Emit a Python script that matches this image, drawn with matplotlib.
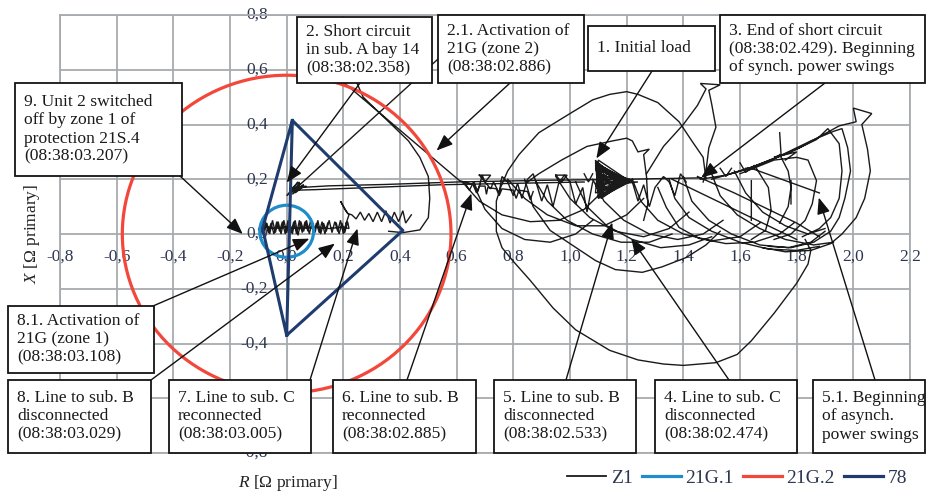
import numpy as np
import matplotlib
matplotlib.use('Agg')
import matplotlib.pyplot as plt
from matplotlib.patches import Rectangle, Circle
from matplotlib.lines import Line2D
from matplotlib.transforms import offset_copy

# ---------------- data ----------------
x_ticks = [-0.8, -0.6, -0.4, -0.2, 0.0, 0.2, 0.4, 0.6, 0.8, 1.0, 1.2, 1.4, 1.6, 1.8, 2.0, 2.2]
x_tick_labels = ['-0,8', '-0,6', '-0,4', '-0,2', '0,0', '0,2', '0,4', '0,6', '0,8', '1,0',
                 '1,2', '1,4', '1,6', '1,8', '2,0', '2,2']
y_ticks = [-0.8, -0.4, -0.2, 0.0, 0.2, 0.4, 0.6, 0.8]
y_tick_labels = ['-0,8', '-0,4', '-0,2', '0,0', '0,2', '0,4', '0,6', '0,8']
y_grid = [-0.8, -0.6, -0.4, -0.2, 0.0, 0.2, 0.4, 0.6, 0.8]

# 21G.1 and 21G.2 circles (centre R, centre X, radius)
g21_1 = (0.0, 0.01, 0.095)
g21_2 = (0.0, 0.0, 0.58)
# 78 characteristic
g78_R = [0.0, -0.085, 0.02, 0.41, 0.0, 0.02]
g78_X = [-0.37, 0.02, 0.415, 0.013, -0.37, 0.415]

# Z1 trajectory pieces (R, X)
z1_load = [(1.13, 0.20), (1.09, 0.27), (1.10, 0.13), (1.21, 0.19), (1.09, 0.26), (1.11, 0.14),
           (1.20, 0.20), (1.10, 0.27), (1.09, 0.15), (1.19, 0.18), (1.10, 0.25), (1.11, 0.13),
           (1.21, 0.20), (1.09, 0.24), (1.12, 0.15), (1.18, 0.19), (1.10, 0.26), (1.10, 0.16),
           (1.21, 0.19), (1.11, 0.23), (1.12, 0.14), (1.17, 0.21), (1.09, 0.25), (1.11, 0.17),
           (1.20, 0.19), (1.10, 0.22), (1.13, 0.16), (1.16, 0.20), (1.10, 0.24), (1.12, 0.18),
           (1.19, 0.20), (1.11, 0.21), (1.14, 0.18), (1.24, 0.19), (1.12, 0.19), (1.095, 0.265),
           (1.105, 0.135), (1.205, 0.195), (1.10, 0.255), (1.115, 0.145), (1.195, 0.185),
           (1.105, 0.235), (1.12, 0.16), (1.18, 0.20), (1.11, 0.20), (1.15, 0.19), (1.10, 0.18),
           (1.13, 0.22), (1.22, 0.195), (1.10, 0.20)]
z1_fault_a = [(0.62, 0.72), (0.02, 0.155)]
z1_fault_b = [(0.16, 0.59), (0.61, 0.195), (0.66, 0.18)]
z1_fault_cluster = [(0.02, 0.155), (0.0, 0.14), (0.04, 0.19), (0.01, 0.15), (0.05, 0.185),
                    (0.02, 0.145), (0.06, 0.18), (0.03, 0.16), (0.07, 0.175), (0.02, 0.165),
                    (0.05, 0.17), (0.01, 0.16), (0.045, 0.19), (0.03, 0.15), (0.06, 0.175)]
z1_fault_line = [(0.05, 0.17), (0.15, 0.176), (0.35, 0.181), (0.60, 0.19), (0.90, 0.196),
                 (1.20, 0.200), (1.46, 0.205)]
z1_fault_line2 = [(0.03, 0.16), (0.10, 0.162), (0.30, 0.17), (0.55, 0.18), (0.75, 0.184),
                  (1.05, 0.19)]
z1_curve_top = [(0.24, 0.57), (0.27, 0.50), (0.35, 0.42), (0.43, 0.34), (0.47, 0.28),
                (0.50, 0.21), (0.505, 0.13), (0.50, 0.06), (0.47, 0.015), (0.41, 0.005),
                (0.36, 0.01)]
z1_zig_small = [(0.44, 0.07), (0.42, 0.04), (0.41, 0.085), (0.395, 0.045), (0.38, 0.08),
                (0.365, 0.04), (0.35, 0.085), (0.335, 0.045), (0.32, 0.08), (0.305, 0.045),
                (0.29, 0.075), (0.275, 0.05), (0.26, 0.08), (0.245, 0.055), (0.23, 0.07),
                (0.215, 0.075), (0.19, 0.12), (0.205, 0.09), (0.22, 0.07), (0.21, 0.04)]
z1_final = [(0.21, 0.04), (0.20, 0.0), (0.19, 0.05), (0.18, 0.01), (0.17, 0.045), (0.16, 0.005),
            (0.15, 0.05), (0.14, 0.01), (0.13, 0.04), (0.12, 0.0), (0.11, 0.05), (0.10, 0.005),
            (0.09, 0.045), (0.08, 0.0), (0.07, 0.05), (0.06, 0.01), (0.05, 0.045), (0.04, -0.005),
            (0.03, 0.05), (0.02, 0.0), (0.01, 0.045), (0.0, 0.005), (-0.01, 0.05), (-0.02, 0.0),
            (-0.03, 0.045), (-0.04, 0.005), (-0.05, 0.05), (-0.06, 0.0), (-0.07, 0.04),
            (-0.08, 0.01), (-0.09, 0.035), (-0.10, 0.015), (-0.08, 0.03), (-0.05, 0.02),
            (0.0, 0.025), (0.05, 0.02), (0.10, 0.025), (0.15, 0.02), (0.20, 0.025), (0.22, 0.02),
            (0.215, 0.045), (0.205, 0.005), (0.195, 0.04), (0.185, 0.0), (0.175, 0.04)]
z1_final2 = [(-0.095, 0.025), (-0.085, 0.0), (-0.075, 0.045), (-0.065, 0.005), (-0.055, 0.04),
             (-0.045, 0.0), (-0.035, 0.045), (-0.025, 0.01), (-0.015, 0.045), (-0.005, 0.0),
             (0.005, 0.05), (0.015, 0.005), (0.025, 0.045), (0.035, 0.0), (0.045, 0.05),
             (0.055, 0.005), (0.065, 0.045), (0.075, 0.01), (0.085, 0.05), (0.095, 0.0),
             (0.105, 0.04), (0.115, 0.005), (0.125, 0.045), (0.135, 0.0), (0.145, 0.04)]
z1_swing_big = [(1.46, 0.205), (1.48, 0.20), (1.47, 0.28), (1.43, 0.34), (1.385, 0.41),
                (1.31, 0.48), (1.24, 0.51), (1.20, 0.52), (1.14, 0.51), (1.08, 0.49), (1.00, 0.44),
                (0.89, 0.37), (0.82, 0.29), (0.78, 0.23), (0.755, 0.17), (0.74, 0.12), (0.74, 0.01),
                (0.76, -0.05), (0.80, -0.10), (0.86, -0.17), (0.94, -0.27), (1.02, -0.35),
                (1.14, -0.425), (1.24, -0.46), (1.33, -0.475), (1.40, -0.48), (1.515, -0.47),
                (1.59, -0.44), (1.64, -0.39), (1.72, -0.29), (1.80, -0.18), (1.84, -0.11),
                (1.85, -0.06), (1.83, -0.02)]
z1_cusp_loop = [(1.27, 0.22), (1.33, 0.32), (1.40, 0.40), (1.45, 0.47), (1.48, 0.53),
                (1.46, 0.55), (1.53, 0.545), (1.49, 0.525), (1.50, 0.475), (1.515, 0.39),
                (1.49, 0.315), (1.48, 0.23), (1.47, 0.19)]
z1_upper2 = [(0.85, 0.19), (0.89, 0.22), (0.97, 0.27), (1.06, 0.32), (1.15, 0.34), (1.20, 0.35),
             (1.22, 0.34), (1.24, 0.30), (1.28, 0.31), (1.26, 0.29), (1.27, 0.21), (1.275, 0.11),
             (1.26, 0.05)]
z1_lower2 = [(0.84, 0.20), (0.87, 0.10), (0.93, 0.013), (1.00, -0.035), (1.09, -0.097),
             (1.16, -0.13), (1.255, -0.14), (1.325, -0.12), (1.41, -0.086), (1.48, -0.04),
             (1.53, 0.01)]
z1_arc_m1 = [(0.66, 0.18), (0.70, 0.09), (0.76, 0.02), (0.84, -0.02), (0.93, -0.03), (1.02, 0.0),
             (1.08, 0.05)]
z1_arc_m2 = [(0.88, 0.19), (0.92, 0.12), (0.99, 0.05), (1.08, 0.0), (1.18, -0.03), (1.28, -0.03),
             (1.36, 0.0)]
z1_arc_m3 = [(1.02, 0.19), (1.06, 0.10), (1.13, 0.03), (1.22, -0.02), (1.32, -0.05), (1.42, -0.04),
             (1.50, -0.01)]
z1_bowl1 = [(0.62, 0.19), (0.68, 0.12), (0.76, 0.07), (0.86, 0.045), (0.96, 0.05), (1.05, 0.09),
            (1.10, 0.14)]
z1_bowl2 = [(0.78, 0.20), (0.84, 0.13), (0.92, 0.07), (1.02, 0.03), (1.12, 0.03), (1.20, 0.07),
            (1.26, 0.13)]
z1_bowl3 = [(0.95, 0.21), (1.00, 0.13), (1.07, 0.06), (1.16, 0.01), (1.26, -0.01), (1.35, 0.02),
            (1.42, 0.08)]
z1_bowl4 = [(1.08, 0.20), (1.12, 0.12), (1.19, 0.05), (1.28, 0.0), (1.38, -0.02), (1.47, 0.0),
            (1.54, 0.05)]
z1_bowl5 = [(1.22, 0.20), (1.25, 0.12), (1.31, 0.05), (1.40, 0.0), (1.50, -0.025), (1.60, -0.01),
            (1.67, 0.04)]
z1_bowl6 = [(1.31, 0.17), (1.34, 0.097), (1.385, 0.024), (1.455, -0.016), (1.55, -0.035),
            (1.65, -0.03), (1.74, 0.0), (1.79, 0.04)]
z1_bowl7 = [(1.40, 0.21), (1.43, 0.12), (1.49, 0.05), (1.57, 0.0), (1.67, -0.04), (1.77, -0.05),
            (1.85, -0.03), (1.90, 0.01)]
z1_bowl8 = [(1.50, 0.22), (1.53, 0.14), (1.59, 0.07), (1.67, 0.02), (1.76, -0.02), (1.86, -0.04),
            (1.93, -0.03)]
z1_bowl9 = [(1.58, 0.23), (1.62, 0.15), (1.68, 0.08), (1.76, 0.03), (1.84, 0.0), (1.90, 0.02)]
z1_bowl10 = [(1.35, 0.20), (1.37, 0.13), (1.42, 0.06), (1.50, 0.01), (1.60, -0.03), (1.70, -0.055),
             (1.80, -0.06), (1.88, -0.045)]
z1_diag1 = [(1.36, 0.20), (1.50, 0.13), (1.62, 0.07), (1.72, 0.02), (1.80, -0.02)]
z1_diag2 = [(1.45, 0.21), (1.58, 0.15), (1.70, 0.09), (1.80, 0.04), (1.88, -0.01)]
z1_diag3 = [(1.64, 0.24), (1.76, 0.195), (1.88, 0.15)]
z1_loop_r1 = [(1.46, 0.20), (1.55, 0.215), (1.63, 0.24), (1.72, 0.275), (1.81, 0.315),
              (1.88, 0.355), (1.95, 0.395), (2.01, 0.41), (2.00, 0.46), (2.065, 0.44),
              (2.03, 0.40), (2.05, 0.31), (2.06, 0.23), (2.04, 0.13), (2.01, 0.06), (1.96, 0.0),
              (1.92, -0.035), (1.85, -0.06), (1.76, -0.065), (1.68, -0.05)]
z1_loop_r2 = [(1.50, 0.20), (1.62, 0.235), (1.74, 0.285), (1.85, 0.34), (1.93, 0.375),
              (1.96, 0.385), (1.98, 0.315), (1.99, 0.23), (1.97, 0.13), (1.95, 0.06),
              (1.92, 0.01), (1.86, -0.03), (1.78, -0.05), (1.70, -0.045)]
z1_loop_r3 = [(1.55, 0.215), (1.66, 0.25), (1.78, 0.30), (1.87, 0.345), (1.91, 0.385),
              (1.95, 0.33), (1.96, 0.23), (1.95, 0.13), (1.92, 0.06), (1.88, 0.02), (1.82, -0.01)]
z1_loop_r4 = [(1.60, 0.22), (1.72, 0.27), (1.80, 0.28), (1.84, 0.27), (1.87, 0.195),
              (1.855, 0.11), (1.83, 0.05), (1.78, 0.0), (1.72, -0.02)]
z1_loop_r5 = [(1.62, 0.24), (1.656, 0.243), (1.70, 0.17), (1.71, 0.086), (1.69, 0.013),
              (1.64, -0.02)]
z1_loop_r6 = [(1.74, 0.29), (1.77, 0.23), (1.78, 0.17), (1.77, 0.10), (1.74, 0.04)]
z1_vline1 = [(1.64, 0.195), (1.64, 0.05)]
z1_vline2 = [(1.78, 0.195), (1.78, 0.11)]
z1_star = [(1.74, 0.37), (1.745, 0.29), (1.72, 0.28), (1.80, 0.30), (1.76, 0.27)]
z1_mid_zig = [(0.63, 0.185), (0.645, 0.16), (0.66, 0.19), (0.675, 0.155), (0.69, 0.215),
              (0.70, 0.19), (0.72, 0.165), (0.73, 0.19), (0.75, 0.15), (0.76, 0.21), (0.78, 0.19),
              (0.80, 0.14), (0.815, 0.185), (0.83, 0.13), (0.85, 0.20), (0.87, 0.22), (0.88, 0.19),
              (0.90, 0.12), (0.92, 0.18), (0.94, 0.10), (0.96, 0.185), (0.98, 0.215), (1.00, 0.19),
              (1.02, 0.11), (1.045, 0.17), (1.06, 0.08), (1.08, 0.19)]
z1_mid_zig2 = [(1.22, 0.19), (1.24, 0.12), (1.26, 0.18), (1.28, 0.10), (1.30, 0.17), (1.33, 0.21),
               (1.35, 0.19), (1.37, 0.14), (1.39, 0.22), (1.41, 0.19)]
z1_cusps = [(0.68, 0.215), (0.70, 0.19), (0.72, 0.215), (0.68, 0.215), (np.nan, np.nan),
            (0.95, 0.215), (0.97, 0.19), (0.99, 0.215), (0.95, 0.215), (np.nan, np.nan),
            (1.05, 0.22), (1.065, 0.19), (1.08, 0.22), (np.nan, np.nan),
            (1.53, 0.24), (1.55, 0.21), (1.57, 0.24), (np.nan, np.nan),
            (1.60, 0.26), (1.62, 0.225), (1.65, 0.25)]
z1_ticks = [(0.66, 0.175), (0.67, 0.15), (0.68, 0.175), (0.70, 0.175), (0.705, 0.145),
            (0.71, 0.17), (0.74, 0.165), (0.75, 0.14), (0.76, 0.165), (0.80, 0.16), (0.81, 0.13),
            (0.82, 0.16), (0.85, 0.155), (0.86, 0.125), (0.87, 0.155)]

z1_pieces = [z1_load, z1_fault_a, z1_fault_b, z1_fault_cluster, z1_fault_line, z1_fault_line2,
             z1_curve_top, z1_zig_small, z1_final, z1_final2, z1_swing_big, z1_cusp_loop,
             z1_upper2, z1_lower2, z1_arc_m1, z1_arc_m2, z1_arc_m3, z1_bowl1, z1_bowl2, z1_bowl3,
             z1_bowl4, z1_bowl5, z1_bowl6, z1_bowl7, z1_bowl8, z1_bowl9, z1_bowl10, z1_diag1,
             z1_diag2, z1_diag3, z1_loop_r1, z1_loop_r2, z1_loop_r3, z1_loop_r4, z1_loop_r5,
             z1_loop_r6, z1_vline1, z1_vline2, z1_star, z1_mid_zig, z1_mid_zig2, z1_cusps,
             z1_ticks]

# annotations: text, box (px: x0, y0, x1, y1), arrow start (px), arrow tip (R, X)
notes = [
    ("9. Unit 2 switched\noff by zone 1 of\nprotection 21S.4\n(08:38:03.207)",
     (15, 83, 182, 176), (180, 176), (-0.155, 0.0)),
    ("2. Short circuit\nin sub. A bay 14\n(08:38:02.358)", (297, 17, 432, 83), (360, 83), (0.0, 0.188)),
    ("2.1. Activation of\n21G (zone 2)\n(08:38:02.886)", (438, 15, 584, 83), (510, 83), (0.529, 0.305)),
    ("1. Initial load", (588, 26, 715, 71), (652, 71), (1.093, 0.276)),
    ("3. End of short circuit\n(08:38:02.429). Beginning\nof synch. power swings",
     (720, 15, 925, 83), (825, 83), (1.463, 0.206)),
    ("8.1. Activation of\n21G (zone 1)\n(08:38:03.108)", (8, 306, 154, 373), (153, 306), (0.08, -0.017)),
    ("8. Line to sub. B\ndisconnected\n(08:38:03.029)", (8, 380, 151, 453), (151, 380), (0.17, -0.035)),
    ("7. Line to sub. C\nreconnected\n(08:38:03.005)", (169, 380, 311, 453), (310, 380), (0.25, 0.02)),
    ("6. Line to sub. B\nreconnected\n(08:38:02.885)", (333, 380, 476, 453), (407, 380), (0.652, 0.148)),
    ("5. Line to sub. B\ndisconnected\n(08:38:02.533)", (494, 380, 636, 453), (566, 380), (1.149, 0.042)),
    ("4. Line to sub. C\ndisconnected\n(08:38:02.474)", (655, 380, 797, 453), (729, 380), (1.216, -0.016)),
    ("5.1. Beginning\nof asynch.\npower swings", (813, 380, 925, 453), (875, 380), (1.878, 0.133)),
]

# ---------------- style ----------------
plt.rcParams['font.family'] = ['Liberation Serif', 'DejaVu Serif']
plt.rcParams['mathtext.fontset'] = 'custom'
plt.rcParams['mathtext.it'] = 'Liberation Serif:italic'
plt.rcParams['mathtext.rm'] = 'Liberation Serif'

W, H = 927, 495
fig = plt.figure(figsize=(W / 100, H / 100), dpi=100)
ax = fig.add_axes([60 / W, 1 - 453 / H, 850 / W, 438 / H])

grid_c = '#a7abaf'
c_z1 = '#1a1a1a'
c_g1 = '#1f8ccc'
c_g2 = '#f2473a'
c_78 = '#1f3c6e'
lab_c = '#2d3650'

ax.set_xlim(-0.8, 2.2)
ax.set_ylim(-0.8, 0.8)
ax.set_xticks(x_ticks)
ax.set_yticks(y_grid)
ax.tick_params(length=0, labelbottom=False, labelleft=False)
ax.set_axisbelow(True)
ax.grid(True, color=grid_c, lw=1.3)
for s in ax.spines.values():
    s.set_color(grid_c)
    s.set_linewidth(1.3)

# Z1
zR, zX = [], []
for piece in z1_pieces:
    for r, x in piece:
        zR.append(r)
        zX.append(x)
    zR.append(np.nan)
    zX.append(np.nan)
ax.plot(zR, zX, color=c_z1, lw=1.0, zorder=2, solid_joinstyle='miter')

ax.add_patch(Circle((g21_1[0], g21_1[1]), g21_1[2], fill=False, ec=c_g1, lw=2.3, zorder=3))
ax.add_patch(Circle((g21_2[0], g21_2[1]), g21_2[2], fill=False, ec=c_g2, lw=2.3, zorder=4))
ax.plot(g78_R, g78_X, color=c_78, lw=2.2, zorder=5)

# tick labels along the zero axes
tx = offset_copy(ax.transData, fig=fig, x=0, y=-23, units='dots')
for v, t in zip(x_ticks, x_tick_labels):
    ax.text(v, 0, t, transform=tx, ha='center', va='center', fontsize=12.5, color=lab_c, zorder=1.5)
ty = offset_copy(ax.transData, fig=fig, x=-19, y=0, units='dots')
for v, t in zip(y_ticks, y_tick_labels):
    ax.text(0, v, t, transform=ty, ha='right', va='center', fontsize=12.5, color=lab_c, zorder=1.5)

# axis titles
fig.text(288 / W, 1 - 483 / H, '$R$ [Ω primary]', ha='center', va='center', fontsize=12.5, color='#222222')
fig.text(32 / W, 1 - 234 / H, '$X$ [Ω primary]', ha='center', va='center', rotation=90,
         fontsize=12.5, color='#222222')

# annotations
for text, (x0, y0, x1, y1), (xs, ys), (tr, tx_) in notes:
    fig.add_artist(Rectangle((x0 / W, 1 - y1 / H), (x1 - x0) / W, (y1 - y0) / H,
                             transform=fig.transFigure, fc='white', ec='#141414', lw=1.3, zorder=10))
    fig.text((x0 + 9) / W, 1 - ((y0 + y1) / 2) / H, text, ha='left', va='center',
             fontsize=12.6, linespacing=1.18, color='#1a1a1a', zorder=11)
    ax.annotate('', xy=(tr, tx_), xycoords='data', xytext=(xs, H - ys), textcoords='figure pixels',
                arrowprops=dict(arrowstyle='-|>,head_length=0.55,head_width=0.22', color='#111111',
                                lw=1.0, shrinkA=0, shrinkB=0, mutation_scale=18), zorder=8)

# legend
handles = [Line2D([], [], color=c_z1, lw=1.3), Line2D([], [], color=c_g1, lw=2.3),
           Line2D([], [], color=c_g2, lw=2.3), Line2D([], [], color=c_78, lw=2.3)]
fig.legend(handles, ['Z1', '21G.1', '21G.2', '78'], loc='center right',
           bbox_to_anchor=(907 / W, 1 - 478 / H), ncol=4, frameon=False, fontsize=14,
           handlelength=2.0, handletextpad=0.25, columnspacing=0.45, labelcolor=lab_c,
           borderaxespad=0, borderpad=0)

fig.savefig('out.png', dpi=100)
